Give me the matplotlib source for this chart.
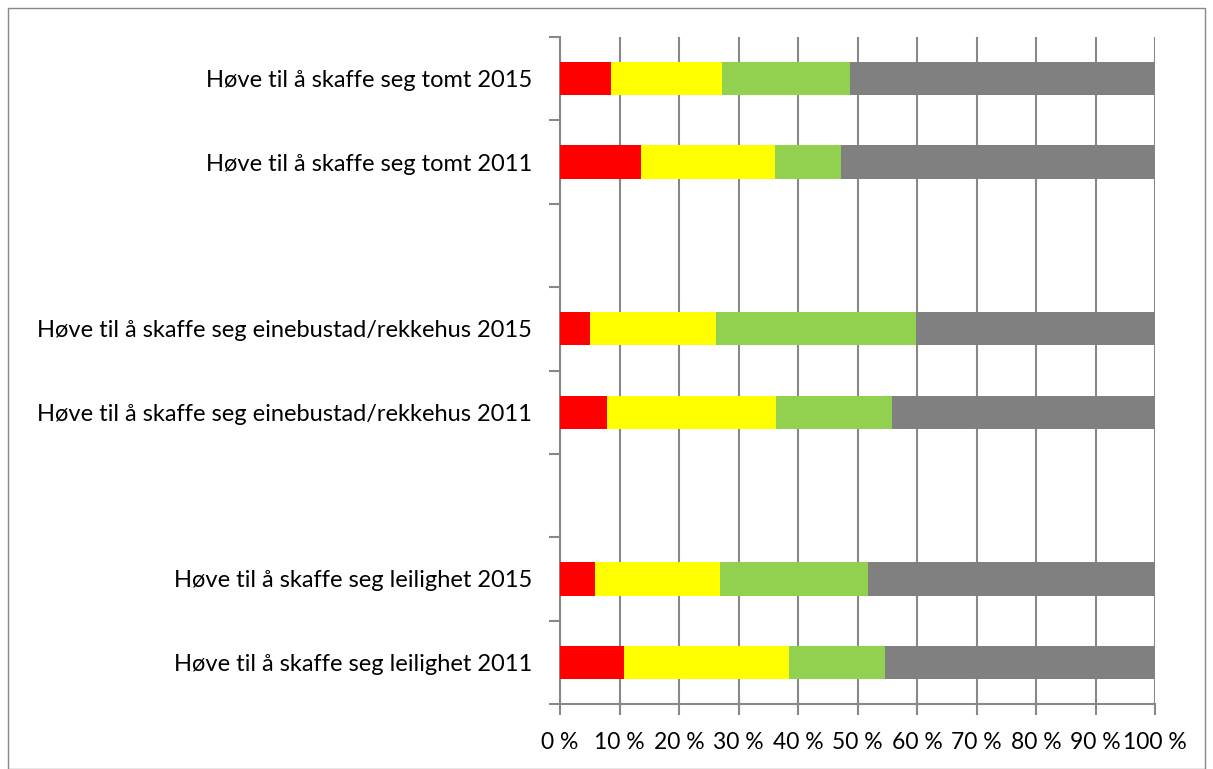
import matplotlib.pyplot as plt
from matplotlib.patches import Rectangle
import numpy as np

kategoriar = ['Høve til å skaffe seg tomt 2015', 'Høve til å skaffe seg tomt 2011', '',
              'Høve til å skaffe seg einebustad/rekkehus 2015', 'Høve til å skaffe seg einebustad/rekkehus 2011', '',
              'Høve til å skaffe seg leilighet 2015', 'Høve til å skaffe seg leilighet 2011']
raud = [8.6, 13.6, 0, 5.0, 7.9, 0, 5.8, 10.7]
gul = [18.6, 22.6, 0, 21.3, 28.4, 0, 21.1, 27.8]
gron = [21.5, 11.1, 0, 33.6, 19.5, 0, 24.9, 16.1]
graa = [51.3, 52.7, 0, 40.1, 44.2, 0, 48.2, 45.4]
farger = ['#FF0000', '#FFFF00', '#92D050', '#808080']
xticks = [0, 10, 20, 30, 40, 50, 60, 70, 80, 90, 100]

plt.rcParams['font.family'] = ['Lato', 'DejaVu Sans']

fig = plt.figure(figsize=(12.13, 7.69), dpi=100)
ax = fig.add_axes([560/1213, 65/769, 595/1213, 667/769])

y = np.arange(len(kategoriar)) + 0.5
venstre = np.zeros(len(kategoriar))
for serie, farge in zip([raud, gul, gron, graa], farger):
    ax.barh(y, serie, left=venstre, height=0.4, color=farge, zorder=3)
    venstre += np.array(serie)

ax.set_xlim(0, 100)
ax.set_ylim(len(kategoriar), 0)
ax.set_xticks(xticks)
ax.set_xticklabels([f'{v} %' for v in xticks], fontsize=16.5)
ax.set_yticks(np.arange(len(kategoriar) + 1))
ax.set_yticklabels([])
ax.set_yticks(y, minor=True)
ax.set_yticklabels(kategoriar, minor=True, fontsize=17)
ax.tick_params(axis='y', which='minor', length=0, pad=20)
ax.tick_params(axis='y', which='major', length=8, width=1.5, color='#888888')
ax.tick_params(axis='x', length=8, width=1.5, color='#888888', pad=12)
ax.grid(axis='x', color='#888888', linewidth=1.5, zorder=0)
for s in ['top', 'right']:
    ax.spines[s].set_visible(False)
for s in ['left', 'bottom']:
    ax.spines[s].set_color('#888888')
    ax.spines[s].set_linewidth(1.5)

fig.patches.append(Rectangle((8/1213, 0), 1197/1213, 761/769, transform=fig.transFigure,
                             fill=False, edgecolor='#888888', linewidth=1))

fig.savefig('out.png', dpi=100)
